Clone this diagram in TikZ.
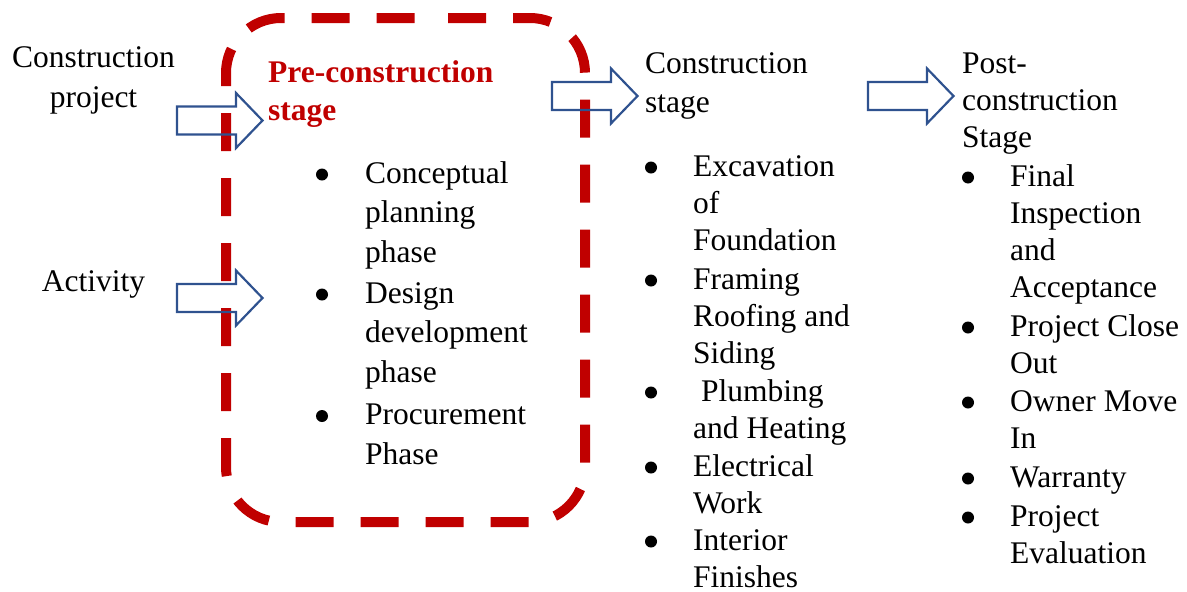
\documentclass[tikz,border=0pt]{standalone}
\usepackage{fontspec}
\setmainfont{Liberation Serif}
\usetikzlibrary{positioning}
\definecolor{boxred}{HTML}{C00000}
\definecolor{arrowblue}{HTML}{2F528F}

\begin{document}
\begin{tikzpicture}[x=1pt,y=-1pt,
  txt/.style={inner sep=0pt,anchor=base west,align=left,font=\fontsize{31.5}{37}\selectfont},
  widetxt/.style={txt,font=\fontsize{31.5}{39.5}\selectfont},
  blockarrow/.style={draw=arrowblue,line width=2.2pt,line join=miter}]
\useasboundingbox (0,0) rectangle (1187,592);

\draw[boxred,line width=10pt,dash pattern=on 38pt off 27pt,dash phase=58pt,rounded corners=55pt]
  (386,18) -- (585,18) -- (585,522) -- (226,522) -- (226,18) -- cycle;

% nodes sit on the baseline of their last line
\node[txt,anchor=base,align=center,font=\fontsize{31.5}{40}\selectfont] (project) at (93.5,107) {Construction\\project};
\node[txt,anchor=base] (activity) at (93.5,291) {Activity};

\node[txt,text=boxred,font=\fontsize{31.5}{38}\selectfont\bfseries] (pre) at (268,120) {Pre-construction\\stage};
\node[widetxt] (concept) at (365,262) {Conceptual\\planning\\phase};
\node[widetxt] (design) at (365,382) {Design\\development\\phase};
\node[widetxt] (procure) at (365,464) {Procurement\\Phase};

\node[txt,font=\fontsize{31.5}{39}\selectfont] (cons) at (645,112) {Construction\\stage};
\node[txt] (excav) at (693,250) {Excavation\\of\\Foundation};
\node[txt] (framing) at (693,363) {Framing\\Roofing and\\Siding};
\node[txt] (plumb) at (693,438) {\ Plumbing\\and Heating};
\node[txt] (elec) at (693,513) {Electrical\\Work};
\node[txt] (interior) at (693,587) {Interior\\Finishes};

\node[txt] (post) at (962,147) {Post-\\construction\\Stage};
\node[txt] (final) at (1010,297) {Final\\Inspection\\and\\Acceptance};
\node[txt] (close) at (1010,373) {Project Close\\Out};
\node[txt] (owner) at (1010,448) {Owner Move\\In};
\node[txt] (warranty) at (1010,487) {Warranty};
\node[txt] (evaluation) at (1010,563) {Project\\Evaluation};

% bullets beside the first line of each item
\foreach \n/\k in {concept/2,design/2,procure/1}
  \fill ([xshift=-43pt,yshift={\k*39.5pt+8.5pt}]\n.base west) circle (6pt);
\foreach \n/\k in {excav/2,framing/2,plumb/1,elec/1,interior/1,final/3,close/1,owner/1,warranty/0,evaluation/1}
  \fill ([xshift=-42pt,yshift={\k*37pt+8.5pt}]\n.base west) circle (6pt);

\foreach \x/\y in {177/120.5,177/298,552/96,868/96}
  \draw[blockarrow] (\x,\y-14) -- ++(59,0) -- ++(0,-13.5) -- (\x+85.5,\y)
    -- (\x+59,\y+27.5) -- ++(0,-13.5) -- (\x,\y+14) -- cycle;

\end{tikzpicture}
\end{document}
